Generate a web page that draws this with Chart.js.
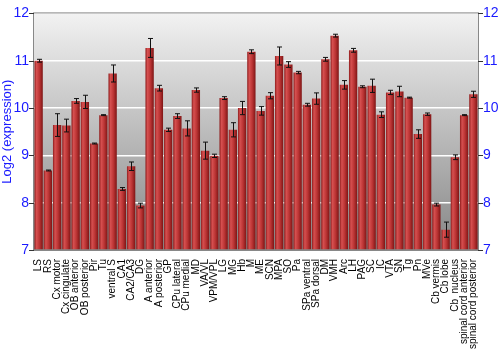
<!DOCTYPE html>
<html>
<head>
<meta charset="utf-8">
<script src="https://cdn.jsdelivr.net/npm/chart.js@4"></script>
<style>
  html, body { margin: 0; padding: 0; background: #fff; }
  #wrap { width: 500px; height: 350px; }
</style>
</head>
<body>
<div id="wrap"><canvas id="exprChart" width="500" height="350"></canvas></div>
<script>
// regions (x categories)
const regions = ["LS", "RS", "Cx motor", "Cx cingulate", "OB anterior", "OB posterior", "Pir", "Tu",
  "ventral S", "CA1", "CA2/CA3", "DG", "A anterior", "A posterior", "GP", "CPu lateral", "CPu medial",
  "MD", "VA/VL", "VPM/VPL", "LG", "MG", "Hb", "M", "ME", "SCN", "MPA", "SO", "Pa", "SPa ventral",
  "SPa dorsal", "DM", "VMH", "Arc", "LH", "PAG", "SC", "IC", "VTA", "SN", "Tg", "Pn", "MVe",
  "Cb vermis", "Cb lobe", "Cb  nucleus", "spinal cord anterior", "spinal cord posterior"];

// log2 expression means
const means = [11.00, 8.68, 9.64, 9.63, 10.15, 10.13, 9.25, 9.85,
  10.73, 8.29, 8.77, 7.94, 11.27, 10.42, 9.54, 9.83, 9.57,
  10.38, 9.10, 8.99, 10.21, 9.54, 10.00, 11.19, 9.94, 10.26, 11.10, 10.92, 10.75, 10.07,
  10.20, 11.03, 11.53, 10.49, 11.22, 10.45, 10.47, 9.86, 10.33, 10.35, 10.22, 9.45, 9.87,
  7.96, 7.43, 8.96, 9.85, 10.29];

// +/- error
const errors = [0.03, 0.01, 0.24, 0.135, 0.05, 0.14, 0.01, 0.01,
  0.18, 0.03, 0.09, 0.05, 0.20, 0.06, 0.035, 0.05, 0.16,
  0.045, 0.18, 0.035, 0.03, 0.15, 0.14, 0.04, 0.09, 0.065, 0.19, 0.06, 0.025, 0.03,
  0.12, 0.04, 0.03, 0.09, 0.04, 0.02, 0.14, 0.06, 0.045, 0.11, 0.01, 0.09, 0.025,
  0.03, 0.16, 0.05, 0.01, 0.065];

const yTicks = [7, 8, 9, 10, 11, 12];
const blue = "#1a1aff";

// gray gradient behind the plot
const plotBackground = {
  id: "plotBackground",
  beforeDraw(chart) {
    const { ctx, chartArea: a } = chart;
    const g = ctx.createLinearGradient(0, a.top, 0, a.bottom);
    g.addColorStop(0, "#f2f2f2");
    g.addColorStop(1, "#868686");
    ctx.save();
    ctx.fillStyle = g;
    ctx.fillRect(a.left, a.top, a.right - a.left, a.bottom - a.top);
    ctx.restore();
  },
  afterDraw(chart) {
    const { ctx, chartArea: a } = chart;
    ctx.save();
    ctx.strokeStyle = "#888";
    ctx.lineWidth = 1;
    ctx.strokeRect(a.left - 0.5, a.top - 0.5, a.right - a.left + 1, a.bottom - a.top + 1);
    ctx.restore();
  }
};

// black error bars with caps
const errorBars = {
  id: "errorBars",
  afterDatasetsDraw(chart) {
    const { ctx } = chart;
    const y = chart.scales.y;
    const meta = chart.getDatasetMeta(0);
    ctx.save();
    ctx.strokeStyle = "#111";
    ctx.lineWidth = 1;
    meta.data.forEach((bar, i) => {
      const x = Math.round(bar.x) + 0.5;
      const top = y.getPixelForValue(means[i] + errors[i]);
      const bot = y.getPixelForValue(means[i] - errors[i]);
      ctx.beginPath();
      ctx.moveTo(x, top); ctx.lineTo(x, bot);
      ctx.moveTo(x - 2.5, top); ctx.lineTo(x + 2.5, top);
      ctx.moveTo(x - 2.5, bot); ctx.lineTo(x + 2.5, bot);
      ctx.stroke();
    });
    ctx.restore();
  }
};

function barFill(c) {
  const chart = c.chart;
  if (!chart.chartArea || !chart.scales.x) return "#b83030";
  const xs = chart.scales.x;
  const cx = xs.getPixelForValue(c.dataIndex);
  const half = (xs.width / regions.length) * 0.9 / 2;
  const g = chart.ctx.createLinearGradient(cx - half, 0, cx + half, 0);
  g.addColorStop(0, "#8e1c1c");
  g.addColorStop(0.25, "#d65050");
  g.addColorStop(0.6, "#bb3434");
  g.addColorStop(1, "#7e1515");
  return g;
}

new Chart(document.getElementById("exprChart").getContext("2d"), {
  type: "bar",
  data: {
    labels: regions,
    datasets: [{
      data: means,
      base: 7,
      backgroundColor: barFill,
      borderWidth: 0,
      barPercentage: 0.9,
      categoryPercentage: 1.0
    }]
  },
  options: {
    responsive: false,
    animation: false,
    layout: { padding: { top: 10, left: 0, right: 0, bottom: 0 } },
    plugins: { legend: { display: false }, tooltip: { enabled: false } },
    scales: {
      x: {
        grid: { display: false },
        border: { display: false },
        ticks: {
          autoSkip: false, maxRotation: 90, minRotation: 90, padding: 1,
          color: "#000", font: { family: "Liberation Sans", size: 10 }
        },
        afterFit(s) { s.height = 100; }
      },
      y: {
        position: "left",
        min: 7, max: 12,
        afterBuildTicks(s) { s.ticks = yTicks.map(v => ({ value: v })); },
        grid: { color: c => (c.tick.value > 7 && c.tick.value < 12) ? "#ffffff" : "rgba(0,0,0,0)", lineWidth: 1.5, drawTicks: false },
        border: { display: false },
        ticks: { color: blue, padding: 5, font: { family: "Liberation Sans", size: 14 } },
        title: { display: true, text: "Log2 (expression)", color: blue, padding: 0, font: { family: "Liberation Sans", size: 13 } },
        afterFit(s) { s.width = 34; }
      },
      y2: {
        position: "right",
        min: 7, max: 12,
        afterBuildTicks(s) { s.ticks = yTicks.map(v => ({ value: v })); },
        grid: { display: false, drawTicks: false },
        border: { display: false },
        ticks: { color: blue, padding: 5, font: { family: "Liberation Sans", size: 14 } },
        afterFit(s) { s.width = 22; }
      }
    }
  },
  plugins: [plotBackground, errorBars, {
    id: "tickMarks",
    afterDraw(chart) {
      const { ctx, chartArea: a } = chart;
      const y = chart.scales.y;
      ctx.save();
      ctx.strokeStyle = "#333";
      ctx.lineWidth = 1;
      yTicks.forEach(v => {
        const py = Math.round(y.getPixelForValue(v)) + 0.5;
        ctx.beginPath();
        ctx.moveTo(a.left - 5, py); ctx.lineTo(a.left, py);
        ctx.moveTo(a.right, py); ctx.lineTo(a.right + 5, py);
        ctx.stroke();
      });
      ctx.restore();
    }
  }]
});
</script>
</body>
</html>
